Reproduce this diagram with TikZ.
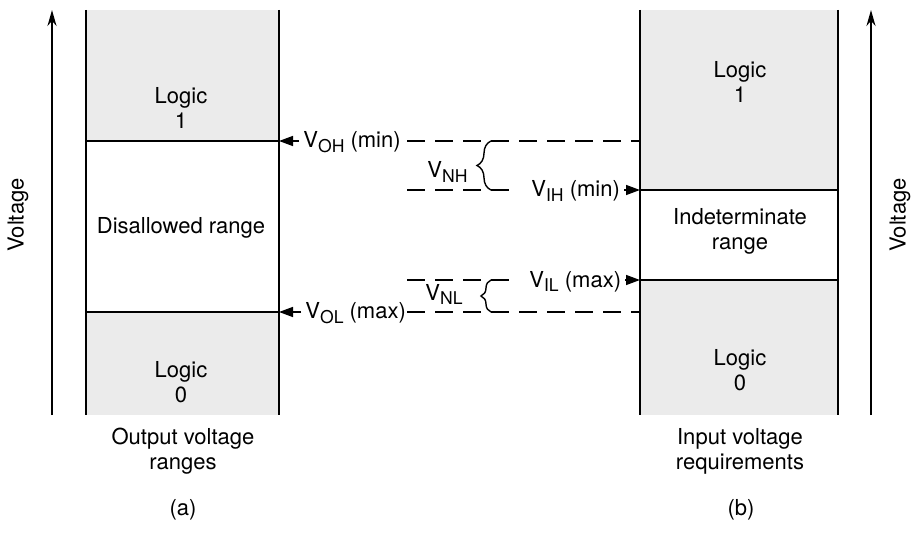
\documentclass[tikz,border=0pt]{standalone}
\usepackage{fontspec}
\setmainfont{TeX Gyre Heros}
\usetikzlibrary{arrows.meta,positioning,decorations.pathreplacing}
\newcommand{\vsub}[1]{\raisebox{-0.22em}{\fontsize{8.8}{10}\selectfont #1}}

\begin{document}
\begin{tikzpicture}[
    x=0.5pt, y=-0.5pt,
    txt/.style={font=\fontsize{11}{12.5}\selectfont, align=center, inner sep=0pt},
    lvl/.style={font=\fontsize{11}{12.5}\selectfont, inner sep=0pt, anchor=base west},
    wall/.style={line width=1pt},
    shade/.style={fill=black!8},
    tick/.style={-{Triangle[length=7pt,width=5pt]}, line width=0.7pt},
    axis/.style={-{Stealth[length=8pt,width=4.5pt]}, line width=1pt},
    guide/.style={line width=0.7pt, dash pattern=on 9pt off 5pt},
    nbrace/.style={decorate, decoration={brace, amplitude=#1}, line width=0.7pt},
]
    \useasboundingbox (0,0) rectangle (917,535);

    % Output column (a)
    \coordinate (aTL) at (86,10);
    \coordinate (aBL) at (86,415);
    \coordinate (aTR) at (279,10);
    \coordinate (aBR) at (279,415);
    \coordinate (ohA) at (86,141);
    \coordinate (ohL) at (279,141);
    \coordinate (olA) at (86,312);
    \coordinate (olL) at (279,312);

    \fill[shade] (aTL) rectangle (ohL);
    \fill[shade] (olA) rectangle (aBR);
    \draw[wall] (aTL) -- (aBL);
    \draw[wall] (aTR) -- (aBR);
    \draw[wall] (ohA) -- (ohL);
    \draw[wall] (olA) -- (olL);

    % Input column (b)
    \coordinate (bTL) at (640,10);
    \coordinate (bBL) at (640,415);
    \coordinate (bTR) at (838,10);
    \coordinate (bBR) at (838,415);
    \coordinate (ihR) at (640,190);
    \coordinate (ihB) at (838,190);
    \coordinate (ilR) at (640,280);
    \coordinate (ilB) at (838,280);

    \fill[shade] (bTL) rectangle (ihB);
    \fill[shade] (ilR) rectangle (bBR);
    \draw[wall] (bTL) -- (bBL);
    \draw[wall] (bTR) -- (bBR);
    \draw[wall] (ihR) -- (ihB);
    \draw[wall] (ilR) -- (ilB);

    % Range labels
    \node[txt] (a1) at (181,108) {Logic\\1};
    \node[txt] (abad) at (181,228) {Disallowed range};
    \node[txt] (a0) at (181,382) {Logic\\0};
    \node[txt] (b1) at (740,82) {Logic\\1};
    \node[txt] (bmid) at (740,231) {Indeterminate\\range};
    \node[txt] (b0) at (740,370) {Logic\\0};

    % Captions
    \node[txt] (capa) at (183,451) {Output voltage\\ranges};
    \node[txt] (capb) at (740,451) {Input voltage\\requirements};
    \node[txt] (taga) at (183,510) {(a)};
    \node[txt] (tagb) at (741,510) {(b)};

    % Voltage axes
    \coordinate (vaB) at (52,415);
    \coordinate (vaT) at (52,10);
    \coordinate (vbB) at (871,415);
    \coordinate (vbT) at (871,10);
    \draw[axis] (vaB) -- (vaT);
    \draw[axis] (vbB) -- (vbT);
    \node[txt, rotate=90] (va) at (18,215) {Voltage};
    \node[txt, rotate=90] (vb) at (900,215) {Voltage};

    % V_OH (min)
    \node[lvl] (voh) at (303,148) {V\vsub{OH} (min)};
    \coordinate (ohD) at (407,141);
    \coordinate (ohR) at (640,141);
    \draw[tick, shorten <=2pt] (voh.west |- ohL) -- (ohL);
    \draw[guide] (ohD) -- (ohR);

    % V_IH (min)
    \node[lvl] (vih) at (531,197) {V\vsub{IH} (min)};
    \coordinate (ihD) at (407,190);
    \coordinate (ihE) at (518,190);
    \draw[guide] (ihD) -- (ihE);
    \draw[tick, shorten <=2pt] (vih.east |- ihR) -- (ihR);

    % V_IL (max)
    \node[lvl] (vil) at (529,287) {V\vsub{IL} (max)};
    \coordinate (ilD) at (407,280);
    \coordinate (ilE) at (518,280);
    \draw[guide] (ilD) -- (ilE);
    \draw[tick, shorten <=2pt] (vil.east |- ilR) -- (ilR);

    % V_OL (max)
    \node[lvl] (vol) at (305,319) {V\vsub{OL} (max)};
    \coordinate (olD) at (407,312);
    \coordinate (olR) at (640,312);
    \draw[tick, shorten <=2pt] (vol.west |- olL) -- (olL);
    \draw[guide] (olD) -- (olR);

    % Noise margins
    \coordinate (nhT) at (491,141);
    \coordinate (nhB) at (491,190);
    \coordinate (nlT) at (491,280);
    \coordinate (nlB) at (491,312);
    \draw[nbrace=7pt] (nhB) -- (nhT);
    \draw[nbrace=5pt] (nlB) -- (nlT);
    \node[lvl] (vnh) at (427,178) {V\vsub{NH}};
    \node[lvl] (vnl) at (425,300) {V\vsub{NL}};
\end{tikzpicture}
\end{document}
